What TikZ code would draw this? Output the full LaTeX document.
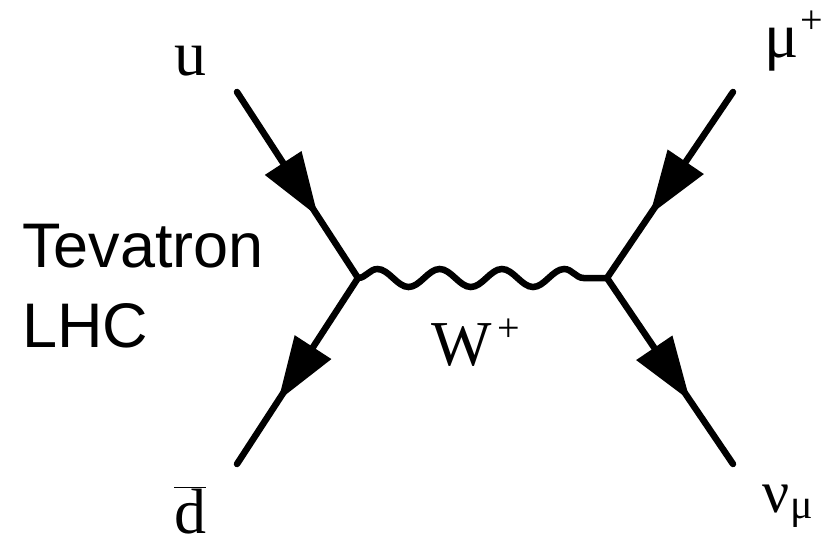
\documentclass[tikz,border=0pt]{standalone}
\usepackage{fontspec}
\setmainfont{Liberation Serif}
\newfontfamily\beamfont{Liberation Sans}
\usetikzlibrary{arrows.meta,decorations.markings,decorations.pathmorphing}
\definecolor{fdInk}{HTML}{000000}
\newcommand\fdup[1]{\raisebox{24pt}{\fontsize{40}{40}\selectfont #1}}
\newcommand\fddown[1]{\raisebox{-6pt}{\fontsize{42}{42}\selectfont #1}}
\tikzset{
  fdline/.style={line width=6.5pt, line cap=round, draw=fdInk},
  fermion/.style={fdline, postaction={decorate,
      decoration={markings, mark=at position #1 with {\arrow{Triangle[length=64pt,width=42pt]}}}}},
  fermion/.default=0.67,
  boson/.style={fdline, decorate,
      decoration={snake, segment length=62.25pt, amplitude=9pt}},
  fdlabel/.style={inner sep=0pt, anchor=base west, text=fdInk,
      font=\fontsize{64}{64}\selectfont},
  beamlabel/.style={inner sep=0pt, anchor=base west, align=left, text=fdInk,
      font=\beamfont\fontsize{63}{80}\selectfont}
}
\begin{document}
\begin{tikzpicture}[x=1pt, y=-1pt]
  \useasboundingbox (0,0) rectangle (827,539);

  \coordinate (vq) at (358,278);
  \coordinate (vl) at (607,278);
  \coordinate (u) at (237,92);
  \coordinate (db) at (237,464);
  \coordinate (mu) at (733,92);
  \coordinate (nu) at (733,464);

  \draw[fermion] (u) -- (vq);
  \draw[fermion=0.66] (vq) -- (db);
  \draw[fermion=0.66] (mu) -- (vl);
  \draw[fermion=0.66] (vl) -- (nu);
  \draw[boson] (vq) -- (vl);

  \node[fdlabel] (ulbl) at (174,75) {u};
  \node[fdlabel] (dlbl) at (174,533) {$\overline{\hbox{d}}$};
  \node[fdlabel] (mulbl) at (764,57) {μ\kern2pt\fdup{+}};
  \node[fdlabel, font=\fontsize{60}{60}\selectfont] (nulbl) at (762,512) {ν\kern1pt\fddown{μ}};
  \node[fdlabel] (wlbl) at (431,365) {W\kern6pt\fdup{+}};
  \node[beamlabel] (beams) at (22,347) {Tevatron\\LHC};
\end{tikzpicture}
\end{document}
